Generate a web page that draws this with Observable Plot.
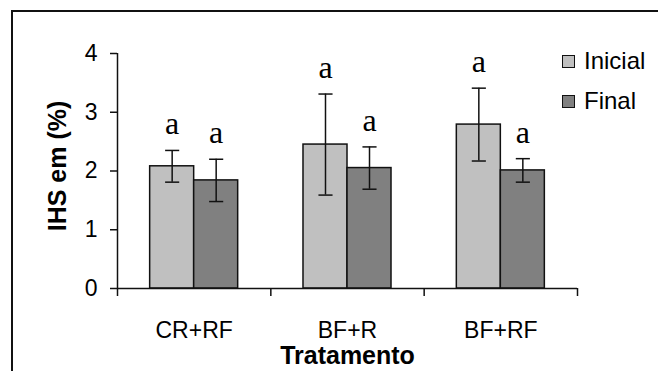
<!DOCTYPE html>
<html>
<head>
<meta charset="utf-8">
<script src="https://cdn.jsdelivr.net/npm/d3@7"></script>
<script src="https://cdn.jsdelivr.net/npm/@observablehq/plot@0.6"></script>
<style>
  html, body { margin: 0; padding: 0; background: #fff; }
  #wrap { position: relative; width: 658px; height: 371px; overflow: hidden; font-family: "Liberation Sans", Arial, sans-serif; }
  #border { position: absolute; left: 11px; top: 10px; width: 700px; height: 400px; border-left: 2px solid #111; border-top: 2px solid #111; pointer-events: none; }
  #legend { position: absolute; left: 562px; top: 41px; font-size: 24px; color: #000; }
  .li { display: flex; align-items: center; height: 40px; }
  .sw { width: 11px; height: 11px; border: 1.5px solid #111; margin-right: 9px; box-sizing: content-box; }
</style>
</head>
<body>
<div id="wrap"><div id="border"></div><div id="chart"></div><div id="legend"></div></div>
<script>
const treatments = ["CR+RF", "BF+R", "BF+RF"];
const series = ["Inicial", "Final"];
const inicialMean = [2.08, 2.45, 2.79];
const inicialErr = [0.27, 0.86, 0.62];
const finalMean = [1.84, 2.05, 2.01];
const finalErr = [0.36, 0.36, 0.20];
const inicialLetters = ["a", "a", "a"];
const finalLetters = ["a", "a", "a"];
const colors = ["#c0c0c0", "#808080"];
const yTicks = [0, 1, 2, 3, 4];

const barW = 0.287;
const capW = 0.046;
const rows = [];
treatments.forEach((t, i) => {
  rows.push({t, s: "Inicial", i, x1: i + 0.5 - barW, x2: i + 0.5, xc: i + 0.5 - barW / 2, v: inicialMean[i], e: inicialErr[i], letter: inicialLetters[i]});
  rows.push({t, s: "Final", i, x1: i + 0.5, x2: i + 0.5 + barW, xc: i + 0.5 + barW / 2, v: finalMean[i], e: finalErr[i], letter: finalLetters[i]});
});
const cats = treatments.map((t, i) => ({t, x: i + 0.5}));

const chart = Plot.plot({
  width: 658,
  height: 371,
  marginLeft: 117,
  marginRight: 81,
  marginTop: 53,
  marginBottom: 83,
  style: {fontFamily: "Liberation Sans, Arial, sans-serif", background: "transparent", overflow: "visible"},
  x: {type: "linear", domain: [0, treatments.length], axis: null},
  y: {type: "linear", domain: [0, 4], axis: null},
  color: {domain: series, range: colors},
  marks: [
    Plot.rectY(rows, {x1: "x1", x2: "x2", y1: 0, y2: "v", fill: "s", stroke: "#111", strokeWidth: 1.5}),
    Plot.ruleX(rows, {x: "xc", y1: d => d.v - d.e, y2: d => d.v + d.e, stroke: "#111", strokeWidth: 1.5}),
    Plot.link(rows, {x1: d => d.xc - capW, x2: d => d.xc + capW, y1: d => d.v + d.e, y2: d => d.v + d.e, stroke: "#111", strokeWidth: 1.5}),
    Plot.link(rows, {x1: d => d.xc - capW, x2: d => d.xc + capW, y1: d => d.v - d.e, y2: d => d.v - d.e, stroke: "#111", strokeWidth: 1.5}),
    Plot.text(rows, {x: "xc", y: d => d.v + d.e, text: "letter", lineAnchor: "bottom", dy: -16, fontSize: 32, fontFamily: "Liberation Serif, Times New Roman, serif", fill: "#000"}),
    Plot.ruleX([0], {stroke: "#111", strokeWidth: 1.5}),
    Plot.ruleY([0], {stroke: "#111", strokeWidth: 1.5}),
    Plot.axisY({ticks: yTicks, tickFormat: d3.format("d"), tickSize: 7, tickPadding: 13, fontSize: 23, stroke: "#111", strokeWidth: 1.5, label: null, color: "#000"}),
    Plot.axisX({ticks: d3.range(treatments.length + 1), tickFormat: () => "", tickSize: 8, stroke: "#111", strokeWidth: 1.5, label: null}),
    Plot.text(cats, {x: "x", text: "t", frameAnchor: "bottom", lineAnchor: "bottom", dy: 49, fontSize: 23, fill: "#000"}),
    Plot.text(["Tratamento"], {frameAnchor: "bottom", textAnchor: "middle", lineAnchor: "bottom", dy: 75, fontSize: 25, fontWeight: "bold", fill: "#000"}),
    Plot.text(["IHS em (%)"], {frameAnchor: "left", textAnchor: "middle", lineAnchor: "middle", rotate: -90, dx: -60, dy: -5, fontSize: 25, fontWeight: "bold", fill: "#000"})
  ]
});
document.getElementById("chart").appendChild(chart);

const legend = document.getElementById("legend");
series.forEach((s, k) => {
  const row = document.createElement("div");
  row.className = "li";
  const sw = document.createElement("div");
  sw.className = "sw";
  sw.style.background = colors[k];
  const lab = document.createElement("span");
  lab.textContent = s;
  row.appendChild(sw);
  row.appendChild(lab);
  legend.appendChild(row);
});
</script>
</body>
</html>
